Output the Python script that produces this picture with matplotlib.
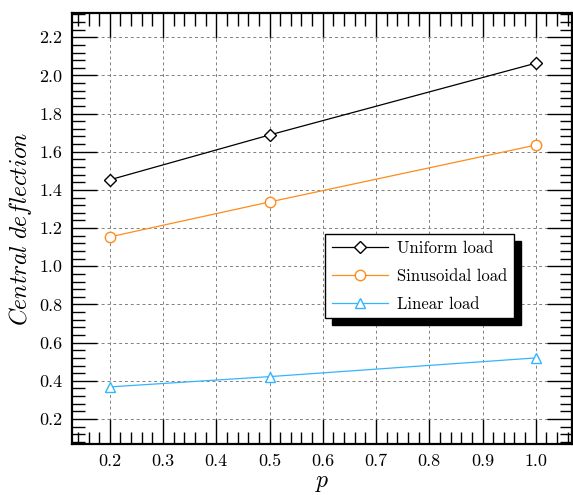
import matplotlib
matplotlib.use("Agg")
import matplotlib.pyplot as plt
from matplotlib.patches import Rectangle
from matplotlib.ticker import MultipleLocator, AutoMinorLocator

plt.rcParams["font.family"] = "serif"
plt.rcParams["font.serif"] = ["cmr10", "DejaVu Serif"]
plt.rcParams["mathtext.fontset"] = "cm"
plt.rcParams["axes.formatter.use_mathtext"] = True

p_values = [0.2, 0.5, 1.0]
uniform_load = [1.453, 1.688, 2.064]
sinusoidal_load = [1.154, 1.337, 1.635]
linear_load = [0.368, 0.422, 0.520]

fig = plt.figure(figsize=(5.73, 4.95), dpi=100)
ax = fig.add_axes([72 / 573, 51 / 495, 500 / 573, 431 / 495])

ax.plot(p_values, uniform_load, color="black", lw=0.9, marker="D", ms=6,
        mfc="white", mec="black", mew=1.0, label="Uniform load", zorder=3)
ax.plot(p_values, sinusoidal_load, color="#ff8c1a", lw=0.9, marker="o", ms=7.5,
        mfc="white", mec="#ff8c1a", mew=1.0, label="Sinusoidal load", zorder=3)
ax.plot(p_values, linear_load, color="#33b5ff", lw=0.9, marker="^", ms=7.5,
        mfc="white", mec="#33b5ff", mew=1.0, label="Linear load", zorder=3)

ax.set_xlim(0.129, 1.068)
ax.set_ylim(0.069, 2.327)
ax.xaxis.set_major_locator(MultipleLocator(0.1))
ax.yaxis.set_major_locator(MultipleLocator(0.2))
ax.xaxis.set_minor_locator(AutoMinorLocator(5))
ax.yaxis.set_minor_locator(AutoMinorLocator(5))
ax.xaxis.set_major_formatter(plt.FuncFormatter(lambda v, _: f"{v:.1f}"))
ax.yaxis.set_major_formatter(plt.FuncFormatter(lambda v, _: f"{v:.1f}"))

ax.tick_params(which="both", direction="in", top=True, right=True, labelsize=13)
ax.tick_params(which="major", length=18, width=1.0, pad=7)
ax.tick_params(which="minor", length=9, width=1.0)
for s in ax.spines.values():
    s.set_linewidth(1.6)

ax.grid(True, which="major", ls=(0, (3, 3)), color="gray", lw=0.7)
ax.set_axisbelow(True)

ax.set_xlabel(r"$p$", fontsize=17, labelpad=2)
ax.set_ylabel(r"$Central\ deflection$", fontsize=17, labelpad=4)

leg = ax.legend(loc="upper left", bbox_to_anchor=(0.506, 0.487), borderaxespad=0,
                fancybox=False, frameon=True, fontsize=12, handlelength=3.4,
                labelspacing=0.75, borderpad=0.4, handletextpad=0.5)
leg.get_frame().set_edgecolor("black")
leg.get_frame().set_linewidth(1.0)
leg.get_frame().set_alpha(1)
leg.set_zorder(5)

fig.canvas.draw()
bb = leg.get_window_extent().transformed(ax.transAxes.inverted())
dx = 7 / 500
dy = 7 / 431
ax.add_patch(Rectangle((bb.x0 + dx, bb.y0 - dy), bb.width, bb.height,
                       transform=ax.transAxes, color="black", zorder=4.9))

fig.savefig("out.png", dpi=100)
